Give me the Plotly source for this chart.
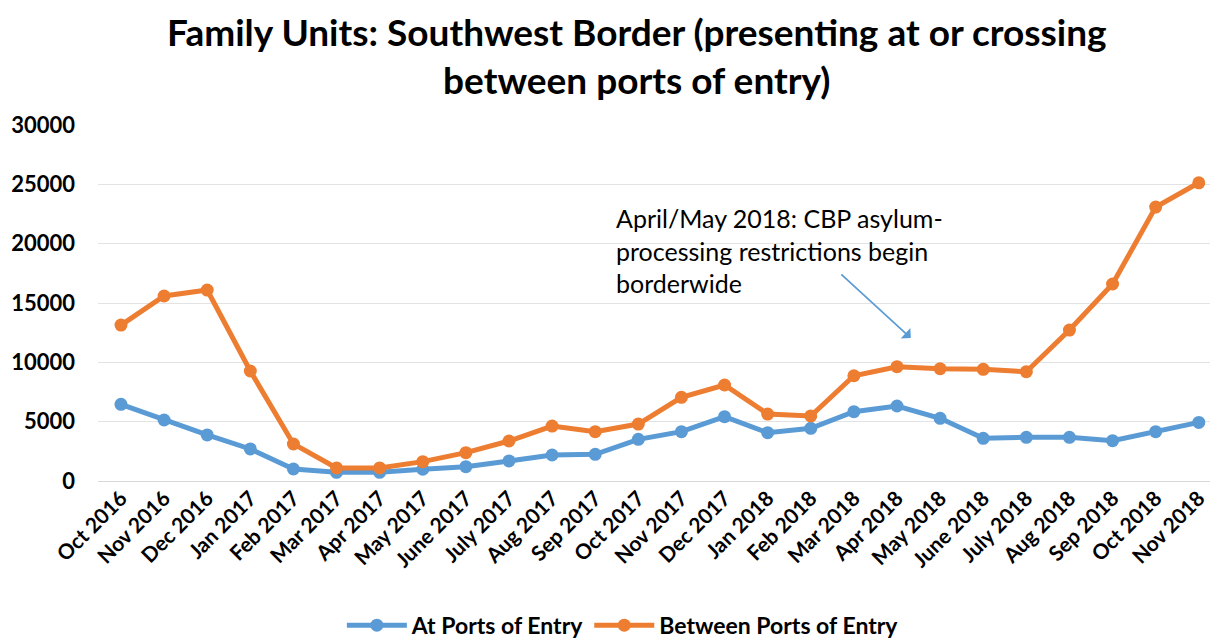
import plotly.graph_objects as go

months = ["Oct 2016", "Nov 2016", "Dec 2016", "Jan 2017", "Feb 2017", "Mar 2017", "Apr 2017",
          "May 2017", "June 2017", "July 2017", "Aug 2017", "Sep 2017", "Oct 2017", "Nov 2017",
          "Dec 2017", "Jan 2018", "Feb 2018", "Mar 2018", "Apr 2018", "May 2018", "June 2018",
          "July 2018", "Aug 2018", "Sep 2018", "Oct 2018", "Nov 2018"]

at_ports = [6460, 5140, 3880, 2700, 1010, 730, 730, 990, 1210, 1690, 2190, 2250, 3510, 4160,
            5420, 4070, 4440, 5840, 6320, 5280, 3600, 3680, 3680, 3400, 4160, 4940]

between_ports = [13140, 15590, 16090, 9270, 3120, 1100, 1100, 1630, 2390, 3370, 4630, 4160, 4800,
                 7050, 8090, 5640, 5480, 8870, 9630, 9460, 9410, 9210, 12720, 16600, 23080, 25130]

y_ticks = [0, 5000, 10000, 15000, 20000, 25000, 30000]

BLUE = "#5B9BD5"
ORANGE = "#ED7D31"
FONT = "Lato"

fig = go.Figure()
fig.add_trace(go.Scatter(x=list(range(len(months))), y=at_ports, name="At Ports of Entry",
                         mode="lines+markers", line=dict(color=BLUE, width=5),
                         marker=dict(color=BLUE, size=13)))
fig.add_trace(go.Scatter(x=list(range(len(months))), y=between_ports, name="Between Ports of Entry",
                         mode="lines+markers", line=dict(color=ORANGE, width=5),
                         marker=dict(color=ORANGE, size=13)))

fig.update_layout(
    width=1210, height=642,
    margin=dict(l=98, r=0, t=125, b=161, autoexpand=False),
    paper_bgcolor="white", plot_bgcolor="white",
    font=dict(family=FONT, color="black"),
    showlegend=True,
    legend=dict(orientation="h", x=0.472, xanchor="center", xref="paper",
                y=-0.405, yanchor="middle", font=dict(family=FONT, size=23, color="black",
                                                      weight="bold"),
                itemwidth=60),
    xaxis=dict(tickmode="array", tickvals=list(range(len(months))), ticktext=months,
               tickangle=-45, range=[-0.533, 25.26], showgrid=False, zeroline=False,
               showline=False, ticks="", automargin=False,
               tickfont=dict(family=FONT, size=21, color="black", weight="bold")),
    yaxis=dict(range=[0, 30000], tickmode="array", tickvals=y_ticks,
               ticktext=[str(v) for v in y_ticks],
               showgrid=True, gridcolor="#E3E3E3", gridwidth=1.3,
               zeroline=True, zerolinecolor="#D9D9D9", zerolinewidth=1.3,
               showline=False, ticks="", ticklabelstandoff=22, automargin=False,
               tickfont=dict(family=FONT, size=22, color="black", weight="bold")),
)

fig.add_annotation(text="<b>Family Units: Southwest Border (presenting at or crossing<br>between ports of entry)</b>",
                   xref="paper", yref="paper", x=(637 - 98) / 1112, y=(481 - 55) / 356,
                   xanchor="center", yanchor="middle", align="center", showarrow=False,
                   font=dict(family=FONT, size=37, color="black"))

fig.add_annotation(text="April/May 2018: CBP asylum-<br>processing restrictions begin<br>borderwide",
                   xref="paper", yref="paper", x=(614 - 98) / 1112, y=(481 - 201) / 356,
                   xanchor="left", yanchor="top", align="left", showarrow=False,
                   font=dict(family=FONT, size=25, color="black"))

fig.add_annotation(text="", x=18.32, y=12050, xref="x", yref="y",
                   ax=-71, ay=-65, showarrow=True, arrowhead=1, arrowsize=1.4,
                   arrowwidth=1.7, arrowcolor=BLUE)

fig.write_html("out.html")
